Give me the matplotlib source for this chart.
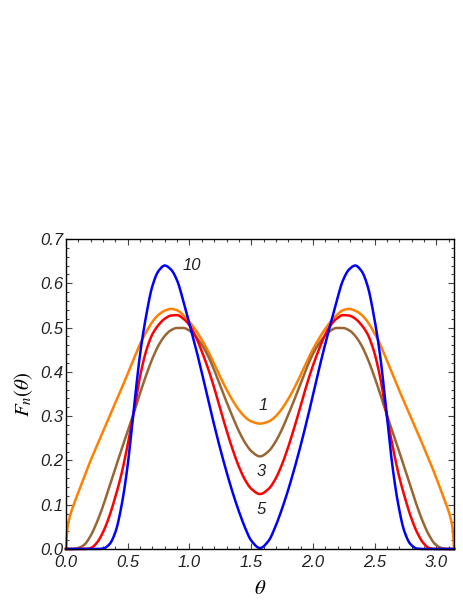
import numpy as np
import matplotlib
matplotlib.use("Agg")
import matplotlib.pyplot as plt
from matplotlib.ticker import MultipleLocator

# theta grid (rad)
theta = [0.000, 0.010, 0.030, 0.060, 0.10, 0.15, 0.20, 0.25, 0.30, 0.35, 0.40, 0.45,
         0.50, 0.55, 0.60, 0.65, 0.70, 0.75, 0.80, 0.85, 0.90, 0.95, 1.00, 1.05,
         1.10, 1.15, 1.20, 1.25, 1.30, 1.35, 1.40, 1.45, 1.50, 1.571,
         1.642, 1.692, 1.742, 1.792, 1.842, 1.892, 1.942, 1.992, 2.042, 2.092, 2.142,
         2.192, 2.242, 2.292, 2.342, 2.392, 2.442, 2.492, 2.542, 2.592, 2.642, 2.692,
         2.742, 2.792, 2.842, 2.892, 2.942, 2.992, 3.042, 3.082, 3.112, 3.132, 3.1416]

F_orange = [0.000, 0.042, 0.072, 0.098, 0.128, 0.165, 0.200, 0.233, 0.266, 0.298, 0.330, 0.362,
            0.396, 0.430, 0.463, 0.490, 0.513, 0.529, 0.538, 0.542, 0.539, 0.528, 0.513, 0.494,
            0.472, 0.447, 0.418, 0.388, 0.360, 0.335, 0.314, 0.298, 0.288, 0.283,
            0.288, 0.298, 0.314, 0.335, 0.360, 0.388, 0.418, 0.447, 0.472, 0.494, 0.513,
            0.528, 0.539, 0.542, 0.538, 0.529, 0.513, 0.490, 0.463, 0.430, 0.396, 0.362,
            0.330, 0.298, 0.266, 0.233, 0.200, 0.165, 0.128, 0.098, 0.072, 0.042, 0.000]

F_brown = [0.000, 0.000, 0.000, 0.000, 0.002, 0.010, 0.030, 0.060, 0.097, 0.140, 0.182, 0.225,
           0.266, 0.308, 0.352, 0.393, 0.430, 0.460, 0.481, 0.494, 0.499, 0.499, 0.493, 0.480,
           0.461, 0.436, 0.404, 0.368, 0.332, 0.298, 0.266, 0.240, 0.221, 0.209,
           0.221, 0.240, 0.266, 0.298, 0.332, 0.368, 0.404, 0.436, 0.461, 0.480, 0.493,
           0.499, 0.499, 0.494, 0.481, 0.460, 0.430, 0.393, 0.352, 0.308, 0.266, 0.225,
           0.182, 0.140, 0.097, 0.060, 0.030, 0.010, 0.002, 0.000, 0.000, 0.000, 0.000]

F_red = [0.000, 0.000, 0.000, 0.000, 0.000, 0.000, 0.002, 0.014, 0.038, 0.073, 0.118, 0.170,
         0.236, 0.310, 0.390, 0.448, 0.485, 0.506, 0.520, 0.527, 0.528, 0.520, 0.505, 0.480,
         0.446, 0.408, 0.364, 0.315, 0.268, 0.224, 0.186, 0.156, 0.136, 0.124,
         0.136, 0.156, 0.186, 0.224, 0.268, 0.315, 0.364, 0.408, 0.446, 0.480, 0.505,
         0.520, 0.528, 0.527, 0.520, 0.506, 0.485, 0.448, 0.390, 0.310, 0.236, 0.170,
         0.118, 0.073, 0.038, 0.014, 0.002, 0.000, 0.000, 0.000, 0.000, 0.000, 0.000]

F_blue = [0.000, 0.000, 0.000, 0.000, 0.000, 0.000, 0.000, 0.000, 0.001, 0.010, 0.038, 0.098,
          0.190, 0.318, 0.440, 0.528, 0.594, 0.628, 0.640, 0.631, 0.606, 0.560, 0.508, 0.455,
          0.398, 0.338, 0.280, 0.225, 0.174, 0.127, 0.085, 0.048, 0.019, 0.002,
          0.019, 0.048, 0.085, 0.127, 0.174, 0.225, 0.280, 0.338, 0.398, 0.455, 0.508,
          0.560, 0.606, 0.631, 0.640, 0.628, 0.594, 0.528, 0.440, 0.318, 0.190, 0.098,
          0.038, 0.010, 0.001, 0.000, 0.000, 0.000, 0.000, 0.000, 0.000, 0.000, 0.000]

curve_labels = ["10", "1", "3", "5"]
label_x = [1.018, 1.595, 1.579, 1.579]
label_y = [0.639, 0.323, 0.176, 0.090]


def smooth_line(x, y, n=600):
    # monotone cubic through the read points, only to draw a smooth curve
    x = np.asarray(x, float)
    y = np.asarray(y, float)
    h = np.diff(x)
    d = np.diff(y) / h
    m = np.zeros_like(y)
    m[0], m[-1] = d[0], d[-1]
    for k in range(1, len(x) - 1):
        if d[k - 1] * d[k] > 0:
            w1 = 2 * h[k] + h[k - 1]
            w2 = h[k] + 2 * h[k - 1]
            m[k] = (w1 + w2) / (w1 / d[k - 1] + w2 / d[k])
    xs = np.linspace(x[0], x[-1], n)
    i = np.clip(np.searchsorted(x, xs) - 1, 0, len(x) - 2)
    t = (xs - x[i]) / h[i]
    h00 = 2 * t**3 - 3 * t**2 + 1
    h10 = t**3 - 2 * t**2 + t
    h01 = -2 * t**3 + 3 * t**2
    h11 = t**3 - t**2
    ys = h00 * y[i] + h10 * h[i] * m[i] + h01 * y[i + 1] + h11 * h[i] * m[i + 1]
    return xs, ys


plt.rcParams['font.family'] = ['Liberation Sans', 'DejaVu Sans']
plt.rcParams['mathtext.fontset'] = 'stix'

fig = plt.figure(figsize=(4.64, 6.06), dpi=100)
ax = fig.add_axes([0.1422, 0.0941, 0.8362, 0.5116])

lw = 1.8
for vals, col in [(F_orange, '#FF8000'), (F_brown, '#996633'),
                  (F_red, '#FF0000'), (F_blue, '#0000FF')]:
    xs, ys = smooth_line(theta, vals)
    ax.plot(xs, ys, color=col, lw=lw, clip_on=False)

for txt, xx, yy in zip(curve_labels, label_x, label_y):
    ax.text(xx, yy, txt, fontsize=12, style='italic', ha='center', va='center', color='#222222')

ax.set_xlim(0, 3.1416)
ax.set_ylim(0, 0.7)
ax.xaxis.set_major_locator(MultipleLocator(0.5))
ax.xaxis.set_minor_locator(MultipleLocator(0.1))
ax.yaxis.set_major_locator(MultipleLocator(0.1))
ax.yaxis.set_minor_locator(MultipleLocator(0.02))
ax.xaxis.set_major_formatter(lambda v, p: f"{v:.1f}")
ax.yaxis.set_major_formatter(lambda v, p: f"{v:.1f}")

ax.tick_params(which='both', direction='in', top=True, right=True, width=0.8, colors='#444444',
               labelcolor='#222222')
ax.tick_params(which='major', length=4, labelsize=12)
ax.tick_params(axis='x', which='major', pad=4.5)
ax.tick_params(axis='y', which='major', pad=2)
ax.tick_params(which='minor', length=2)
for lab in ax.get_xticklabels() + ax.get_yticklabels():
    lab.set_style('italic')
for s in ax.spines.values():
    s.set_linewidth(1.0)

ax.set_xlabel(r"$\theta$", fontsize=15, labelpad=6)
ax.set_ylabel(r"$F_n(\theta)$", fontsize=15, labelpad=4)

fig.savefig("out.png", dpi=100)
